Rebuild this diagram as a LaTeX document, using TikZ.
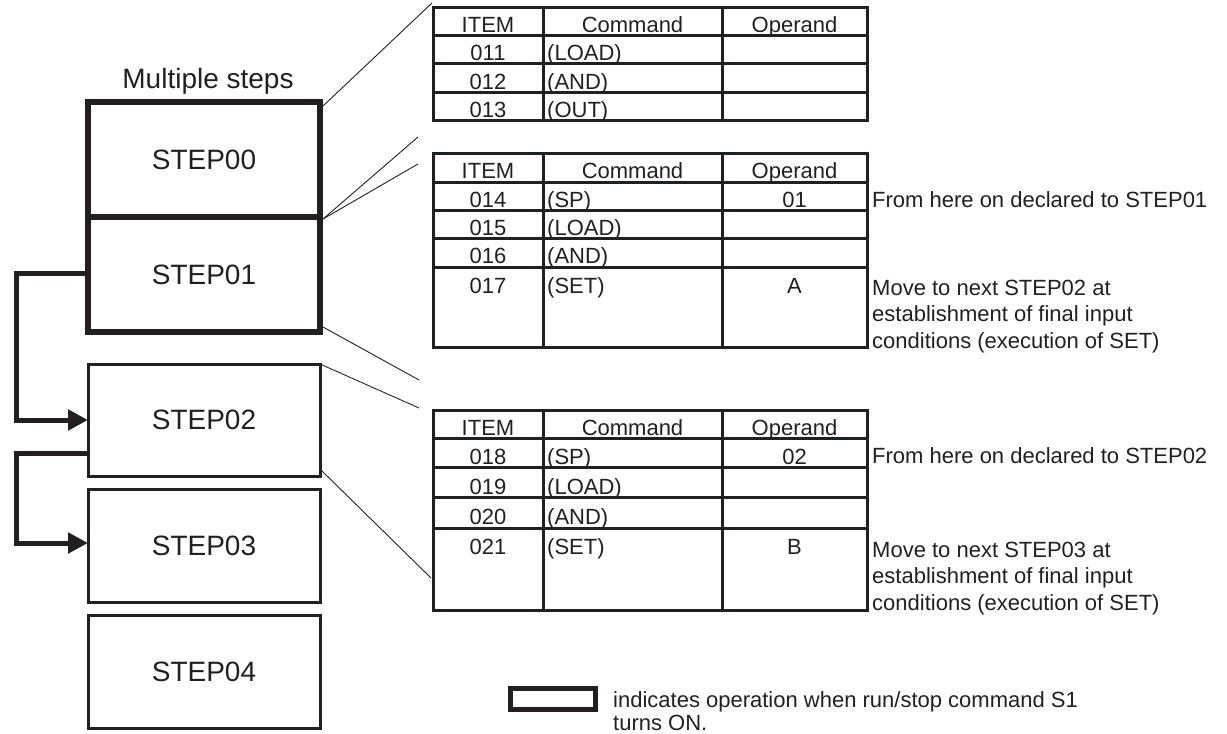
\documentclass[tikz,border=0pt]{standalone}
\usepackage{fontspec}
\setmainfont{Liberation Sans}
\usetikzlibrary{arrows.meta}
\definecolor{ink}{RGB}{35,31,32}
\tikzset{
  stepbox/.style={draw=ink, text=ink, minimum width=232pt, inner sep=0pt, outer sep=0pt, font=\fontsize{28}{32}\selectfont},
  thickbox/.style={stepbox, line width=6pt},
  thinbox/.style={stepbox, line width=3pt},
  tbl/.style={draw=ink, line width=3pt},
  cell/.style={anchor=base, inner sep=0pt, text=ink, font=\fontsize{22}{26}\selectfont},
  cellL/.style={cell, anchor=base west},
  note/.style={anchor=base west, inner sep=0pt, text=ink, font=\fontsize{22}{26}\selectfont},
  conn/.style={draw=ink, line width=5pt, line join=miter, -{Triangle[length=20pt,width=20pt]}},
  zoomline/.style={draw=ink, line width=0.9pt},
}
\begin{document}
\begin{tikzpicture}[x=1pt,y=-1pt]
\useasboundingbox (0,0) rectangle (1227,734);

% ---------------- step boxes
\node[thinbox, minimum height=112pt] (s2) at (204,420) {STEP02};
\node[thinbox, minimum height=113pt] (s3) at (204,545.5) {STEP03};
\node[thinbox, minimum height=113pt] (s4) at (204,671.5) {STEP04};
\node[thickbox, minimum height=115pt] (s0) at (204,159.5) {STEP00};
\node[thickbox, minimum height=115pt] (s1) at (204,274.5) {STEP01};
\node[anchor=base, inner sep=0pt, text=ink, font=\fontsize{28}{32}\selectfont] (title) at (208,88) {Multiple steps};

% ---------------- connectors
\coordinate (c1a) at (16,273);
\coordinate (c1b) at (16,420);
\coordinate (c2a) at (16,453);
\coordinate (c2b) at (16,543);
\draw[conn] (s1.west |- c1a) -- (c1a) -- (c1b) -- (s2.west |- c1b);
\draw[conn] (s2.west |- c2a) -- (c2a) -- (c2b) -- (s3.west |- c2b);

% ---------------- table 1
\draw[tbl] (433,7) rectangle (867,120);
\foreach \yy in {35,63,92} \draw[tbl] (433,\yy) -- (867,\yy);
\foreach \xx in {543,722} \draw[tbl] (\xx,7) -- (\xx,120);
\node[cell] (a0) at (488,32.5) {ITEM};
\node[cell] (a0c) at (632.5,32.5) {Command};
\node[cell] (a0o) at (794.5,32.5) {Operand};
\node[cell] (a1) at (488,60.5) {011};
\node[cellL] (a1c) at (547,60.5) {(LOAD)};
\node[cell] (a2) at (488,89) {012};
\node[cellL] (a2c) at (547,89) {(AND)};
\node[cell] (a3) at (488,117.5) {013};
\node[cellL] (a3c) at (547,117.5) {(OUT)};

% ---------------- table 2
\draw[tbl] (433,153) rectangle (867,347);
\foreach \yy in {182,210,238,267} \draw[tbl] (433,\yy) -- (867,\yy);
\foreach \xx in {543,722} \draw[tbl] (\xx,153) -- (\xx,347);
\node[cell] (b0) at (488,178.5) {ITEM};
\node[cell] (b0c) at (632.5,178.5) {Command};
\node[cell] (b0o) at (794.5,178.5) {Operand};
\node[cell] (b1) at (488,207.5) {014};
\node[cellL] (b1c) at (547,207.5) {(SP)};
\node[cell] (b1o) at (794.5,207.5) {01};
\node[cell] (b2) at (488,235.5) {015};
\node[cellL] (b2c) at (547,235.5) {(LOAD)};
\node[cell] (b3) at (488,263.5) {016};
\node[cellL] (b3c) at (547,263.5) {(AND)};
\node[cell] (b4) at (488,293) {017};
\node[cellL] (b4c) at (547,293) {(SET)};
\node[cell] (b4o) at (794.5,293) {A};
\node[note] (nb1) at (872,207) {From here on declared to STEP01};
\node[note] (nb2) at (872,295) {Move to next STEP02 at};
\node[note] (nb3) at (872,321.5) {establishment of final input};
\node[note] (nb4) at (872,348) {conditions (execution of SET)};

% ---------------- table 3
\draw[tbl] (433,410) rectangle (867,610);
\foreach \yy in {438,467,497,528} \draw[tbl] (433,\yy) -- (867,\yy);
\foreach \xx in {543,722} \draw[tbl] (\xx,410) -- (\xx,610);
\node[cell] (c0) at (488,435.5) {ITEM};
\node[cell] (c0c) at (632.5,435.5) {Command};
\node[cell] (c0o) at (794.5,435.5) {Operand};
\node[cell] (c1) at (488,464) {018};
\node[cellL] (c1c) at (547,464) {(SP)};
\node[cell] (c1o) at (794.5,464) {02};
\node[cell] (c2) at (488,494) {019};
\node[cellL] (c2c) at (547,494) {(LOAD)};
\node[cell] (c3) at (488,524.5) {020};
\node[cellL] (c3c) at (547,524.5) {(AND)};
\node[cell] (c4) at (488,554) {021};
\node[cellL] (c4c) at (547,554) {(SET)};
\node[cell] (c4o) at (794.5,554) {B};
\node[note] (nc1) at (872,463) {From here on declared to STEP02};
\node[note] (nc2) at (872,557) {Move to next STEP03 at};
\node[note] (nc3) at (872,583.5) {establishment of final input};
\node[note] (nc4) at (872,610) {conditions (execution of SET)};

% ---------------- zoom lines
\coordinate (z1) at (432,3);
\coordinate (z2) at (418,137);
\coordinate (z3) at (418,164);
\coordinate (z4) at (419,380);
\coordinate (z5) at (419,408);
\coordinate (z6) at (431,578);
\draw[zoomline] ([shift={(3,4)}]s0.north east) -- (z1);
\draw[zoomline] ([shift={(3,2)}]s0.south east) -- (z2);
\draw[zoomline] ([shift={(3,2)}]s0.south east) -- (z3);
\draw[zoomline] ([shift={(3,-5)}]s1.south east) -- (z4);
\draw[zoomline] (s2.north east) -- (z5);
\draw[zoomline] ([shift={(1,-6)}]s2.south east) -- (z6);

% ---------------- legend
\node[draw=ink, line width=5pt, minimum width=85pt, minimum height=21pt, inner sep=0pt, outer sep=0pt] (leg) at (553,699) {};
\node[note] (l1) at (613,707.5) {indicates operation when run/stop command S1};
\node[note] (l2) at (613,730.5) {turns ON.};
\end{tikzpicture}
\end{document}
